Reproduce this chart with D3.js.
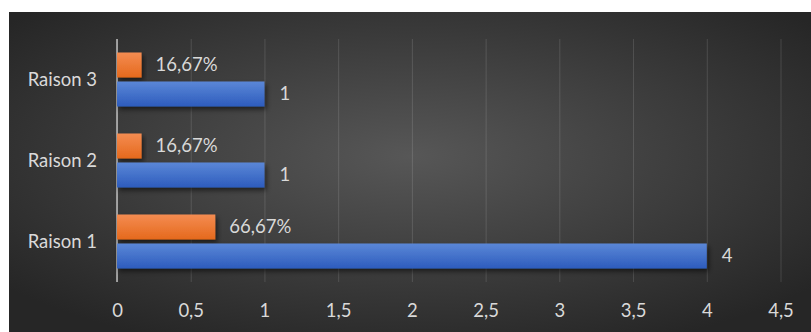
<!DOCTYPE html>
<html>
<head>
<meta charset="utf-8">
<script src="https://cdn.jsdelivr.net/npm/d3@7"></script>
<style>
  body { margin: 0; background: #fff; }
  text { font-family: Lato, "Open Sans", sans-serif; }
</style>
</head>
<body>
<div id="chart"></div>
<script>
// data
var categories = ["Raison 1", "Raison 2", "Raison 3"];
var counts = [4, 1, 1];
var shares = [0.6667, 0.1667, 0.1667];
var shareLabels = ["66,67%", "16,67%", "16,67%"];
var ticks = [0, 0.5, 1, 1.5, 2, 2.5, 3, 3.5, 4, 4.5];

var width = 811, height = 332;
var margin = {left: 117, top: 39};
var fontSize = 18.5;

const svg = d3.select('#chart')
    .append('svg')
    .attr('width', width)
    .attr('height', height);

var defs = svg.append('defs');
var bg = defs.append('radialGradient').attr('id', 'bg')
    .attr('cx', '50%').attr('cy', '45%').attr('r', '65%');
bg.append('stop').attr('offset', '0%').attr('stop-color', '#575757');
bg.append('stop').attr('offset', '100%').attr('stop-color', '#262626');

var og = defs.append('linearGradient').attr('id', 'og').attr('x1', 0).attr('y1', 0).attr('x2', 0).attr('y2', 1);
og.append('stop').attr('offset', '0%').attr('stop-color', '#f48c52');
og.append('stop').attr('offset', '100%').attr('stop-color', '#e5691c');
var bgr = defs.append('linearGradient').attr('id', 'bgr').attr('x1', 0).attr('y1', 0).attr('x2', 0).attr('y2', 1);
bgr.append('stop').attr('offset', '0%').attr('stop-color', '#5b87d7');
bgr.append('stop').attr('offset', '100%').attr('stop-color', '#2d5cbd');

var shadow = defs.append('filter').attr('id', 'shadow')
    .attr('x', '-10%').attr('y', '-30%').attr('width', '130%').attr('height', '180%');
shadow.append('feDropShadow').attr('dx', 2).attr('dy', 3).attr('stdDeviation', 2.5)
    .attr('flood-color', '#000').attr('flood-opacity', 0.55);

svg.append('rect')
    .attr('x', 9).attr('y', 12)
    .attr('width', width - 9).attr('height', height - 12)
    .attr('fill', 'url(#bg)');

const g = svg.append('g')
    .attr('transform', `translate(${margin.left},${margin.top})`);

var xScale = d3.scaleLinear().domain([0, 4.5]).range([0, 663.5]);
var yScale = d3.scaleBand()
    .domain(categories.slice().reverse())
    .range([0, 243]);

var barH = 25, gap = 4;

// gridlines + tick labels
var xAxis = d3.axisBottom(xScale)
    .tickValues(ticks)
    .tickSize(243)
    .tickFormat(d => String(d).replace('.', ','));

var ax = g.append('g').call(xAxis);
ax.select('.domain').remove();
ax.selectAll('.tick line')
    .attr('stroke', '#ffffff')
    .attr('stroke-opacity', 0.13)
    .attr('stroke-width', 1);
ax.selectAll('.tick text')
    .attr('fill', '#d9d9d9')
    .attr('font-size', fontSize)
    .attr('y', 272)
    .attr('dy', '0.35em');

// category axis line
g.append('line')
    .attr('x1', xScale(0)).attr('x2', xScale(0))
    .attr('y1', 0).attr('y2', 243)
    .attr('stroke', '#bfbfbf').attr('stroke-width', 1.5);

var rows = categories.map((c, i) => ({cat: c, count: counts[i], share: shares[i], label: shareLabels[i]}));

// orange bars
g.selectAll('.share')
    .data(rows)
    .enter()
    .append('rect')
    .attr('class', 'share')
    .attr('x', xScale(0))
    .attr('y', d => yScale(d.cat) + yScale.bandwidth() / 2 - barH - gap / 2)
    .attr('width', d => xScale(d.share) - xScale(0))
    .attr('height', barH)
    .attr('fill', 'url(#og)')
    .attr('filter', 'url(#shadow)');

// blue bars
g.selectAll('.count')
    .data(rows)
    .enter()
    .append('rect')
    .attr('class', 'count')
    .attr('x', xScale(0))
    .attr('y', d => yScale(d.cat) + yScale.bandwidth() / 2 + gap / 2)
    .attr('width', d => xScale(d.count) - xScale(0))
    .attr('height', barH)
    .attr('fill', 'url(#bgr)')
    .attr('filter', 'url(#shadow)');

// value labels
g.selectAll('.shareLabel')
    .data(rows)
    .enter()
    .append('text')
    .attr('x', d => xScale(d.share) + 14)
    .attr('y', d => yScale(d.cat) + yScale.bandwidth() / 2 - gap / 2 - barH / 2)
    .attr('dy', '0.35em')
    .attr('fill', '#d9d9d9')
    .attr('font-size', fontSize)
    .text(d => d.label);

g.selectAll('.countLabel')
    .data(rows)
    .enter()
    .append('text')
    .attr('x', d => xScale(d.count) + 15)
    .attr('y', d => yScale(d.cat) + yScale.bandwidth() / 2 + gap / 2 + barH / 2)
    .attr('dy', '0.35em')
    .attr('fill', '#d9d9d9')
    .attr('font-size', fontSize)
    .text(d => d.count);

// category labels
g.selectAll('.catLabel')
    .data(categories)
    .enter()
    .append('text')
    .attr('x', -20)
    .attr('y', d => yScale(d) + yScale.bandwidth() / 2)
    .attr('dy', '0.35em')
    .attr('text-anchor', 'end')
    .attr('fill', '#d9d9d9')
    .attr('font-size', fontSize)
    .text(d => d);
</script>
</body>
</html>
